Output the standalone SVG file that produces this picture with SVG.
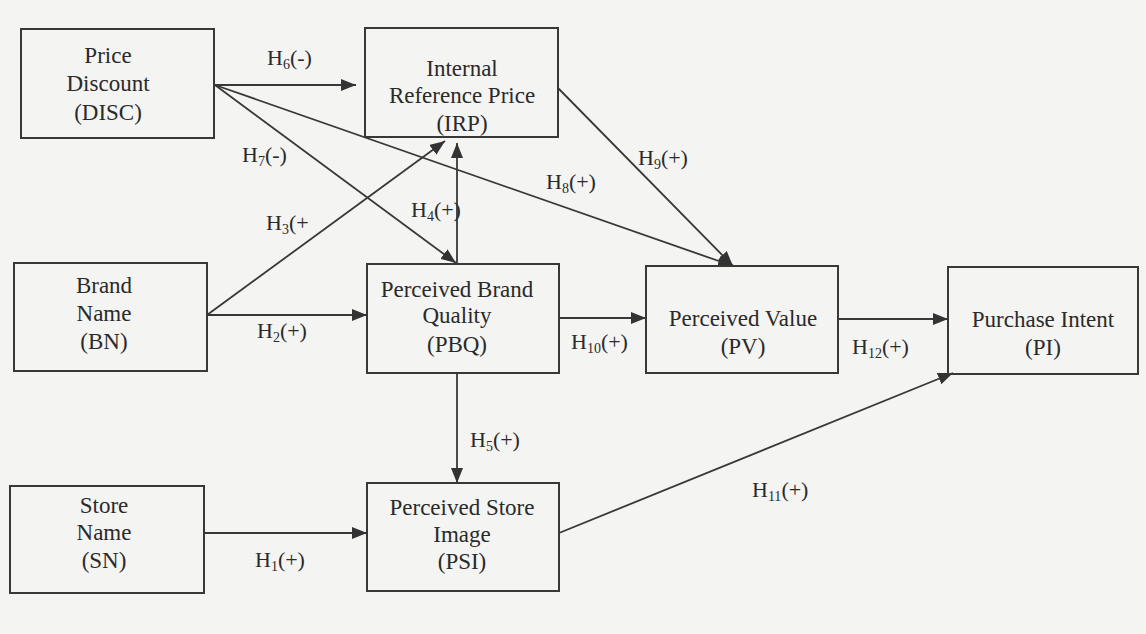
<svg xmlns="http://www.w3.org/2000/svg" width="1146" height="634" viewBox="0 0 1146 634">
<style>
.box{fill:none;stroke:#383838;stroke-width:2}
.t{font-family:"Liberation Serif","Times New Roman",serif;font-size:23px;fill:#2a2a2a;text-anchor:middle}
.l{font-family:"Liberation Serif","Times New Roman",serif;font-size:22px;fill:#2a2a2a}
.s{font-size:14px}
.c{fill:none;stroke:#383838;stroke-width:1.8}
</style>
<defs>
<marker id="ah" markerUnits="userSpaceOnUse" markerWidth="16" markerHeight="12" refX="15" refY="6" orient="auto">
<path d="M0,0 L15,6 L0,12 z" fill="#333"/>
</marker>
</defs>
<rect width="1146" height="634" fill="#f4f4f2"/>
<g id="connectors">
<line class="c" x1="215" y1="85" x2="356" y2="85" marker-end="url(#ah)"/>
<line class="c" x1="215" y1="85" x2="456" y2="263" marker-end="url(#ah)"/>
<line class="c" x1="215" y1="85" x2="733" y2="266" marker-end="url(#ah)"/>
<line class="c" x1="558" y1="88" x2="733" y2="266" marker-end="url(#ah)"/>
<line class="c" x1="207" y1="315" x2="445" y2="141" marker-end="url(#ah)"/>
<line class="c" x1="457" y1="264" x2="457" y2="143" marker-end="url(#ah)"/>
<line class="c" x1="207" y1="315" x2="367" y2="315" marker-end="url(#ah)"/>
<line class="c" x1="559" y1="318" x2="646" y2="318" marker-end="url(#ah)"/>
<line class="c" x1="838" y1="319" x2="948" y2="319" marker-end="url(#ah)"/>
<line class="c" x1="457" y1="373" x2="457" y2="483" marker-end="url(#ah)"/>
<line class="c" x1="204" y1="533" x2="367" y2="533" marker-end="url(#ah)"/>
<line class="c" x1="559" y1="533" x2="953" y2="373" marker-end="url(#ah)"/>
<text class="l" x="267" y="65">H<tspan class="s" dy="4">6</tspan><tspan dy="-4">(-)</tspan></text>
<text class="l" x="242" y="162">H<tspan class="s" dy="4">7</tspan><tspan dy="-4">(-)</tspan></text>
<text class="l" x="266" y="230">H<tspan class="s" dy="4">3</tspan><tspan dy="-4">(+</tspan></text>
<text class="l" x="411" y="217">H<tspan class="s" dy="4">4</tspan><tspan dy="-4">(+)</tspan></text>
<text class="l" x="546" y="189">H<tspan class="s" dy="4">8</tspan><tspan dy="-4">(+)</tspan></text>
<text class="l" x="638" y="165">H<tspan class="s" dy="4">9</tspan><tspan dy="-4">(+)</tspan></text>
<text class="l" x="257" y="338">H<tspan class="s" dy="4">2</tspan><tspan dy="-4">(+)</tspan></text>
<text class="l" x="571" y="349">H<tspan class="s" dy="4">10</tspan><tspan dy="-4">(+)</tspan></text>
<text class="l" x="852" y="354">H<tspan class="s" dy="4">12</tspan><tspan dy="-4">(+)</tspan></text>
<text class="l" x="470" y="447">H<tspan class="s" dy="4">5</tspan><tspan dy="-4">(+)</tspan></text>
<text class="l" x="255" y="567">H<tspan class="s" dy="4">1</tspan><tspan dy="-4">(+)</tspan></text>
<text class="l" x="752" y="497">H<tspan class="s" dy="4">11</tspan><tspan dy="-4">(+)</tspan></text>
</g>
<g id="DISC">
<rect class="box" x="21" y="29" width="193" height="109"/>
<text class="t" x="108" y="63">Price</text>
<text class="t" x="108" y="91">Discount</text>
<text class="t" x="108" y="120">(DISC)</text>
</g>
<g id="IRP">
<rect class="box" x="365" y="28" width="193" height="109"/>
<text class="t" x="462" y="76">Internal</text>
<text class="t" x="462" y="103">Reference Price</text>
<text class="t" x="462" y="131">(IRP)</text>
</g>
<g id="BN">
<rect class="box" x="14" y="263" width="193" height="108"/>
<text class="t" x="104" y="293">Brand</text>
<text class="t" x="104" y="321">Name</text>
<text class="t" x="104" y="349">(BN)</text>
</g>
<g id="PBQ">
<rect class="box" x="367" y="264" width="192" height="109"/>
<text class="t" x="457" y="297">Perceived Brand</text>
<text class="t" x="457" y="323">Quality</text>
<text class="t" x="457" y="352">(PBQ)</text>
</g>
<g id="PV">
<rect class="box" x="646" y="266" width="192" height="107"/>
<text class="t" x="743" y="326">Perceived Value</text>
<text class="t" x="743" y="354">(PV)</text>
</g>
<g id="PI">
<rect class="box" x="948" y="267" width="190" height="107"/>
<text class="t" x="1043" y="327">Purchase Intent</text>
<text class="t" x="1043" y="355">(PI)</text>
</g>
<g id="SN">
<rect class="box" x="10" y="486" width="194" height="107"/>
<text class="t" x="104" y="513">Store</text>
<text class="t" x="104" y="540">Name</text>
<text class="t" x="104" y="568">(SN)</text>
</g>
<g id="PSI">
<rect class="box" x="367" y="483" width="192" height="108"/>
<text class="t" x="462" y="515">Perceived Store</text>
<text class="t" x="462" y="542">Image</text>
<text class="t" x="462" y="569">(PSI)</text>
</g>
</svg>
